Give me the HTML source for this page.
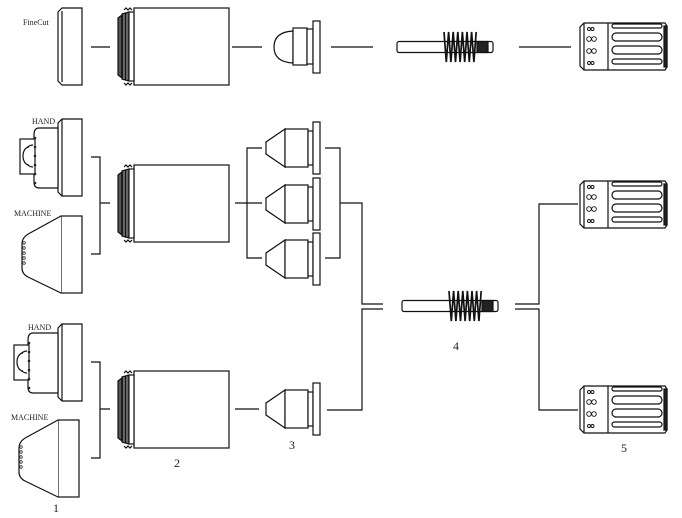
<!DOCTYPE html>
<html><head><meta charset="utf-8"><style>
html,body{margin:0;padding:0;background:#fff}
svg{display:block}
text{font-family:"Liberation Serif",serif;fill:#222}
</style></head><body>
<svg width="682" height="518" viewBox="0 0 682 518" xmlns="http://www.w3.org/2000/svg">
<defs>
<g id="body2" stroke="#111" fill="none" stroke-width="1.2">
  <rect x="134" y="0" width="95" height="77" fill="#fff"/>
  <path d="M122,6 L129,4 V73 L122,71 Z" fill="#666"/>
  <path d="M118,10 L122,7 V70 L118,67 Z" fill="#555"/>
  <path d="M124,2 l2,-2 l2,2 l2,-2 l2,2 M124,75 l2,2 l2,-2 l2,2 l2,-2" />
  <rect x="129" y="4" width="5" height="69" fill="#fff"/>
  <line x1="122" y1="8" x2="122" y2="69" stroke="#000"/>
  <line x1="125.5" y1="5" x2="125.5" y2="72" stroke="#000" stroke-width="0.8"/>
</g>
<g id="handouter" stroke="#111" fill="#fff" stroke-width="1.2">
  <path d="M62,0 H82 V77 H62 L58,73 V4 Z"/>
  <line x1="62" y1="0" x2="62" y2="77"/>
</g>
<g id="mach" stroke="#111" fill="#fff" stroke-width="1.2">
  <rect x="61" y="0" width="21" height="77"/>
  <path d="M61,0 L30,17 Q22,21 22,28 V52 Q22,58 28,61 L61,77"/>
  <g fill="none" stroke="#333" stroke-width="0.8">
   <circle cx="24" cy="27" r="1.3"/><circle cx="24" cy="32" r="1.3"/><circle cx="24" cy="37" r="1.3"/><circle cx="24" cy="42" r="1.3"/><circle cx="24" cy="47" r="1.3"/>
  </g>
</g>
<g id="noz" stroke="#111" fill="#fff" stroke-width="1.2">
  <path d="M285,-19 L266,-6 V6 L285,19 Z"/>
  <rect x="285" y="-19" width="23" height="38"/>
  <rect x="308" y="-17" width="5" height="34"/>
  <rect x="313" y="-26" width="7" height="52"/>
</g>
<g id="elec" stroke="#111" stroke-width="1.2" fill="#fff">
  <rect x="0" y="-5.5" width="96" height="11" rx="2"/>
  <rect x="80" y="-5.5" width="11" height="11" fill="#222"/>
  <g fill="none" stroke="#111" stroke-width="1.7">
   <path d="M47,-15 l2.3,30 l2.3,-30 l2.3,30 l2.3,-30 l2.3,30 l2.3,-30 l2.3,30 l2.3,-30 l2.3,30 l2.3,-30 l2.3,30 l2.3,-30 l2.3,30 l2.3,-30"/>
  </g>
</g>
<g id="cap" stroke="#111" stroke-width="1.2" fill="#fff">
  <path d="M584,0 H665 L667,3 V44 L665,47 H584 L580,43 V4 Z"/>
  <line x1="584" y1="0" x2="584" y2="47"/>
  <line x1="608" y1="0" x2="608" y2="47"/>
  <rect x="664" y="3" width="3" height="41" fill="#222"/>
  <rect x="612" y="1" width="50" height="4" rx="2"/>
  <rect x="612" y="10" width="50" height="8" rx="4"/>
  <rect x="612" y="23" width="50" height="8" rx="4"/>
  <rect x="612" y="36" width="50" height="5" rx="2.5"/>
  <g fill="none" stroke-width="0.9">
   <circle cx="589" cy="6" r="1.5"/><circle cx="592.5" cy="6" r="1.5"/>
   <circle cx="589" cy="16" r="2.3"/><circle cx="594" cy="16" r="2.3"/>
   <circle cx="589" cy="28" r="2.3"/><circle cx="594" cy="28" r="2.3"/>
   <circle cx="589" cy="40" r="1.5"/><circle cx="592.5" cy="40" r="1.5"/>
  </g>
</g>
</defs>

<!-- TOP ROW -->
<text x="23" y="25" font-size="8">FineCut</text>
<g stroke="#111" stroke-width="1.2" fill="#fff">
  <path d="M62,8 H82 V85 H62 L58,81 V12 Z"/>
  <line x1="62" y1="11" x2="62" y2="82"/>
</g>
<g fill="none" stroke="#111" stroke-width="1.2">
  <line x1="91" y1="47" x2="110" y2="47"/>
  <line x1="232" y1="47" x2="262" y2="47"/>
  <line x1="331" y1="47" x2="373" y2="47"/>
  <line x1="519" y1="47" x2="571" y2="47"/>
</g>
<use href="#body2" transform="translate(0,8)"/>
<g stroke="#111" stroke-width="1.2" fill="#fff">
  <path d="M293,31 Q274,32 274,47 Q274,62 293,63 Z"/>
  <rect x="293" y="28" width="14" height="37"/>
  <rect x="307" y="29" width="6" height="35"/>
  <rect x="313" y="21" width="7" height="52"/>
</g>
<use href="#elec" transform="translate(397,47)"/>
<use href="#cap" transform="translate(0,23)"/>

<!-- MIDDLE ROW -->
<text x="32" y="124" font-size="8">HAND</text>
<text x="14" y="216" font-size="8">MACHINE</text>
<use href="#handouter" transform="translate(0,119)"/>
<g stroke="#111" fill="#fff" stroke-width="1.2">
  <path d="M58,128 H39 Q34,128 34,135 V182 Q34,188 39,188 H58 Z"/>
  <rect x="20" y="139" width="15" height="35"/>
  <path d="M33,145 A9,11 0 0 0 33,167"/>
  <path d="M29,147 A6,9 0 0 0 29,165"/>
  <g fill="#222" stroke="none">
   <circle cx="35" cy="138" r="1.3"/><circle cx="35" cy="147" r="1.3"/><circle cx="35" cy="156" r="1.3"/><circle cx="35" cy="165" r="1.3"/><circle cx="35" cy="174" r="1.3"/><circle cx="35" cy="183" r="1.3"/>
  </g>
</g>
<use href="#mach" transform="translate(0,216)"/>
<use href="#body2" transform="translate(0,165)"/>
<g fill="none" stroke="#111" stroke-width="1.2">
  <path d="M91,157 H100 V254 H91 M100,203 H110"/>
  <path d="M235,203 H262 M262,148 H247 V258 H262"/>
  <path d="M325,148 H340 V258 H325 M340,203 H362 V304 H383"/>
  <path d="M383,309 H362 V410 H327"/>
  <path d="M515,304 H539 V204 H578 M515,309 H539 V410 H578"/>
</g>
<use href="#noz" transform="translate(0,148)"/>
<use href="#noz" transform="translate(0,204)"/>
<use href="#noz" transform="translate(0,259)"/>
<use href="#elec" transform="translate(402,306)"/>
<text x="453" y="350" font-size="12">4</text>
<use href="#cap" transform="translate(0,181)"/>
<use href="#cap" transform="translate(0,386)"/>
<text x="621" y="452" font-size="12">5</text>

<!-- BOTTOM ROW -->
<text x="28" y="330" font-size="8">HAND</text>
<text x="11" y="420" font-size="8">MACHINE</text>
<use href="#handouter" transform="translate(0,324)"/>
<g stroke="#111" fill="#fff" stroke-width="1.2">
  <path d="M58,333 H33 Q28,333 28,340 V387 Q28,393 33,393 H58 Z"/>
  <rect x="14" y="345" width="15" height="35"/>
  <path d="M27,351 A9,11 0 0 0 27,373"/>
  <path d="M23,353 A6,9 0 0 0 23,371"/>
  <g fill="#222" stroke="none">
   <circle cx="29" cy="343" r="1.3"/><circle cx="29" cy="352" r="1.3"/><circle cx="29" cy="361" r="1.3"/><circle cx="29" cy="370" r="1.3"/><circle cx="29" cy="379" r="1.3"/><circle cx="29" cy="388" r="1.3"/>
  </g>
</g>
<use href="#mach" transform="translate(-3,420)"/>
<use href="#body2" transform="translate(0,371)"/>
<g fill="none" stroke="#111" stroke-width="1.2">
  <path d="M91,362 H100 V458 H91 M100,409 H110"/>
  <path d="M235,409 H259"/>
</g>
<use href="#noz" transform="translate(0,409)"/>
<text x="53" y="512" font-size="12">1</text>
<text x="174" y="467" font-size="12">2</text>
<text x="289" y="449" font-size="12">3</text>
</svg>
</body></html>
